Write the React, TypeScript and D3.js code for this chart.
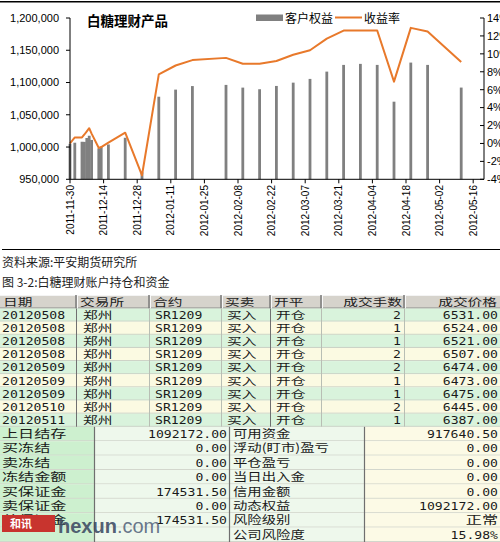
import React from "react";
import * as d3 from "d3";

// ---------- chart data ----------
const dates = [
  "2011-11-30", "2011-12-02", "2011-12-05", "2011-12-06", "2011-12-07", "2011-12-08",
  "2011-12-09", "2011-12-12", "2011-12-13", "2011-12-16", "2011-12-23", "2011-12-30",
  "2012-01-06", "2012-01-13", "2012-01-20", "2012-02-03", "2012-02-10", "2012-02-17",
  "2012-02-24", "2012-03-02", "2012-03-09", "2012-03-16", "2012-03-23", "2012-03-30",
  "2012-04-06", "2012-04-13", "2012-04-20", "2012-04-27", "2012-05-11",
];
const equity = [
  1005000, 1006700, 1008200, 1008000, 1014000, 1017500, 1011000, 998000, 1000000,
  1004000, 1014400, 961000, 1078000, 1089000, 1094500, 1096300, 1092100, 1089600,
  1094700, 1099800, 1105600, 1116900, 1127300, 1128900, 1127300, 1070300, 1130900,
  1127300, 1092172,
];
const returnRate = [
  0.0, 0.67, 0.67, 1.0, 1.35, 1.7, 1.1, -0.5, -0.4, 0.1, 1.2, -3.55, 7.7, 8.7, 9.3,
  9.55, 8.9, 8.9, 9.2, 9.9, 10.4, 11.7, 12.6, 12.6, 12.6, 6.9, 12.9, 12.5, 9.1,
];
const leftTicks = [950000, 1000000, 1050000, 1100000, 1150000, 1200000];
const rightTicks = [-4, -2, 0, 2, 4, 6, 8, 10, 12, 14];
const xTickDates = [
  "2011-11-30", "2011-12-14", "2011-12-28", "2012-01-11", "2012-01-25", "2012-02-08",
  "2012-02-22", "2012-03-07", "2012-03-21", "2012-04-04", "2012-04-18", "2012-05-02",
  "2012-05-16",
];
const chartTitle = "白糖理财产品";
const seriesNames = ["客户权益", "收益率"];
const sourceText = "资料来源:平安期货研究所";
const figCaption = "图 3-2:白糖理财账户持仓和资金";

// ---------- table data ----------
const tableHeaders = ["日期", "交易所", "合约", "买卖", "开平", "成交手数", "成交价格"];
const tradeDates = ["20120508", "20120508", "20120508", "20120508", "20120509", "20120509", "20120509", "20120510", "20120511"];
const exchanges = ["郑州", "郑州", "郑州", "郑州", "郑州", "郑州", "郑州", "郑州", "郑州"];
const contracts = ["SR1209", "SR1209", "SR1209", "SR1209", "SR1209", "SR1209", "SR1209", "SR1209", "SR1209"];
const sides = ["买入", "买入", "买入", "买入", "买入", "买入", "买入", "买入", "买入"];
const openClose = ["开仓", "开仓", "开仓", "开仓", "开仓", "开仓", "开仓", "开仓", "开仓"];
const lots = ["2", "1", "1", "2", "2", "1", "1", "2", "1"];
const prices = ["6531.00", "6524.00", "6521.00", "6507.00", "6474.00", "6473.00", "6475.00", "6445.00", "6387.00"];

const leftLabels = ["上日结存", "买冻结", "卖冻结", "冻结金额", "买保证金", "卖保证金", "总保证金", ""];
const leftValues = ["1092172.00", "0.00", "0.00", "0.00", "174531.50", "0.00", "174531.50", ""];
const rightLabels = ["可用资金", "浮动(盯市)盈亏", "平仓盈亏", "当日出入金", "信用金额", "动态权益", "风险级别", "公司风险度"];
const rightValues = ["917640.50", "0.00", "0.00", "0.00", "0.00", "1092172.00", "正常", "15.98%"];

const parse = (s: string) => {
  const [y, m, d] = s.split("-").map(Number);
  return new Date(Date.UTC(y, m - 1, d));
};

const CJK = "'Noto Sans CJK SC', sans-serif";
const MONO = "'DejaVu Sans Mono', monospace";
const ARIAL = "'Liberation Sans', Arial, sans-serif";

function TText({ x, y, anchor = "start", font, size, fill = "#1a1a1a", children, weight = 400, sx = 1.25 }: any) {
  return (
    <text
      transform={`translate(${x},${y}) scale(${sx},1)`}
      textAnchor={anchor}
      fontFamily={font}
      fontSize={size}
      fontWeight={weight}
      fill={fill}
    >
      {children}
    </text>
  );
}

export default function App() {
  const W = 500;
  const H = 542;
  const plot = { left: 70, right: 484, top: 18, bottom: 179.3 };
  const x = d3
    .scaleUtc()
    .domain([parse("2011-11-30"), new Date(Date.UTC(2012, 4, 20, 12))])
    .range([plot.left, plot.right]);
  const yL = d3.scaleLinear().domain([950000, 1200000]).range([plot.bottom, plot.top]);
  const yR = d3.scaleLinear().domain([-4, 14]).range([plot.bottom, plot.top]);
  const fmt = d3.format(",");

  const pts = dates.map((d, i) => ({ date: parse(d), eq: equity[i], r: returnRate[i] }));
  const line = d3
    .line<any>()
    .x((d) => x(d.date))
    .y((d) => yR(d.r));
  const orange = "#E8792B";
  const barW = 2.8;

  // table geometry
  const cols = [0, 77, 150, 222, 271, 322, 405, 500];
  const headTop = 295;
  const headH = 13.5;
  const rowH = 13.15;
  const rowsTop = headTop + headH;
  const accTop = rowsTop + rowH * tradeDates.length;
  const accH = (H - accTop) / leftLabels.length;
  const accCols = [0, 95, 230, 365, 500];

  return (
    <svg
      width={W}
      height={H}
      style={{ position: "absolute", left: 0, top: 0, display: "block", background: "#fff" }}
    >
      <rect x={0} y={0} width={W} height={H} fill="#fff" />
      {/* frame lines */}
      <line x1={0} x2={W} y1={1.8} y2={1.8} stroke="#000" strokeWidth={1.5} />
      <line x1={2} x2={W} y1={249.5} y2={249.5} stroke="#000" strokeWidth={1.2} />

      {/* bars */}
      {pts.map((p, i) => (
        <rect
          key={"b" + i}
          x={x(p.date) - barW / 2}
          y={yL(p.eq)}
          width={barW}
          height={plot.bottom - yL(p.eq)}
          fill="#808080"
        />
      ))}
      {/* line */}
      <path d={line(pts) || ""} fill="none" stroke={orange} strokeWidth={2} strokeLinejoin="round" />

      {/* axes */}
      <line x1={plot.left} x2={plot.left} y1={plot.top} y2={plot.bottom} stroke="#000" />
      <line x1={plot.right} x2={plot.right} y1={plot.top} y2={plot.bottom} stroke="#000" />
      <line x1={plot.left} x2={plot.right} y1={plot.bottom} y2={plot.bottom} stroke="#000" />
      {leftTicks.map((t) => (
        <g key={"lt" + t}>
          <line x1={plot.left - 4} x2={plot.left} y1={yL(t)} y2={yL(t)} stroke="#000" />
          <text x={59} y={yL(t)} dy="0.35em" textAnchor="end" fontFamily={ARIAL} fontSize={11} fill="#000">
            {fmt(t)}
          </text>
        </g>
      ))}
      {rightTicks.map((t) => (
        <g key={"rt" + t}>
          <line x1={plot.right - 4} x2={plot.right} y1={yR(t)} y2={yR(t)} stroke="#000" />
          <text x={487} y={yR(t)} dy="0.35em" textAnchor="start" fontFamily={ARIAL} fontSize={11} fill="#000">
            {t + "%"}
          </text>
        </g>
      ))}
      {xTickDates.map((d) => {
        const xx = x(parse(d));
        return (
          <g key={"xt" + d}>
            <line x1={xx} x2={xx} y1={plot.bottom} y2={plot.bottom + 4} stroke="#000" />
            <text
              transform={`translate(${xx},${185}) rotate(-90)`}
              textAnchor="end"
              dy="0.35em"
              fontFamily={ARIAL}
              fontSize={10}
              fill="#000"
            >
              {d}
            </text>
          </g>
        );
      })}

      {/* title & legend */}
      <text x={87} y={25.5} fontFamily={CJK} fontSize={13.5} fontWeight={700} fill="#000">
        {chartTitle}
      </text>
      <rect x={256} y={14.5} width={27} height={6.5} fill="#808080" />
      <text x={285} y={23} fontFamily={CJK} fontSize={12} fill="#000">
        {seriesNames[0]}
      </text>
      <line x1={335} x2={362} y1={17.5} y2={17.5} stroke={orange} strokeWidth={2} />
      <text x={364} y={23} fontFamily={CJK} fontSize={12} fill="#000">
        {seriesNames[1]}
      </text>

      {/* source & caption */}
      <text x={2} y={266.5} fontFamily={CJK} fontSize={12} fill="#222">
        {sourceText}
      </text>
      <text x={2} y={287} fontFamily={CJK} fontSize={12} fill="#222">
        {figCaption}
      </text>

      {/* trade table header */}
      <rect x={0} y={headTop} width={W} height={headH} fill="#d6d3cc" />
      <line x1={0} x2={W} y1={headTop + 0.5} y2={headTop + 0.5} stroke="#f4f4f4" />
      <line x1={0} x2={W} y1={headTop + headH - 0.5} y2={headTop + headH - 0.5} stroke="#8a8a8a" />
      {cols.slice(1, -1).map((c) => (
        <g key={"hc" + c}>
          <line x1={c - 1} x2={c - 1} y1={headTop} y2={headTop + headH} stroke="#7a7a7a" strokeWidth={1.5} />
          <line x1={c + 0.5} x2={c + 0.5} y1={headTop} y2={headTop + headH} stroke="#f8f8f8" />
        </g>
      ))}
      {tableHeaders.map((h, i) => {
        const right = i >= 5;
        return (
          <TText
            key={"h" + i}
            x={right ? cols[i + 1] - 3 : cols[i] + 3}
            y={headTop + headH - 3}
            anchor={right ? "end" : "start"}
            font={CJK}
            size={10.5}
            sx={1.4}
            fill="#222"
          >
            {h}
          </TText>
        );
      })}

      {/* trade rows */}
      {tradeDates.map((d, i) => {
        const top = rowsTop + i * rowH;
        const base = top + rowH - 2.8;
        return (
          <g key={"r" + i}>
            <rect x={0} y={top} width={W} height={rowH} fill={i % 2 === 0 ? "#d9f3dc" : "#fbfae2"} />
            <line x1={0} x2={W} y1={top + rowH - 0.5} y2={top + rowH - 0.5} stroke="#c9cfc4" />
            <TText x={2} y={base} font={MONO} size={10.5}>{d}</TText>
            <TText x={83} y={base} font={CJK} size={10.5} sx={1.4}>{exchanges[i]}</TText>
            <TText x={155} y={base} font={MONO} size={10.5}>{contracts[i]}</TText>
            <TText x={227} y={base} font={CJK} size={10.5} sx={1.4}>{sides[i]}</TText>
            <TText x={276} y={base} font={CJK} size={10.5} sx={1.4}>{openClose[i]}</TText>
            <TText x={401} y={base} anchor="end" font={MONO} size={10.5}>{lots[i]}</TText>
            <TText x={498} y={base} anchor="end" font={MONO} size={10.5}>{prices[i]}</TText>
          </g>
        );
      })}
      {cols.slice(1, -1).map((c, i) => (
        <line
          key={"rc" + c}
          x1={c - 0.5}
          x2={c - 0.5}
          y1={rowsTop}
          y2={accTop}
          stroke={i === 0 || i === 3 ? "#707070" : "#b8beb4"}
          strokeWidth={1}
        />
      ))}

      {/* account table */}
      {leftLabels.map((l, i) => {
        const top = accTop + i * accH;
        const base = top + accH - 3.2;
        return (
          <g key={"a" + i}>
            <rect x={accCols[0]} y={top} width={accCols[1]} height={accH} fill="#cdf0cf" />
            <rect x={accCols[1]} y={top} width={accCols[2] - accCols[1]} height={accH} fill="#eef8ec" />
            <rect x={accCols[2]} y={top} width={accCols[3] - accCols[2]} height={accH} fill="#eef8ec" />
            <rect x={accCols[3]} y={top} width={accCols[4] - accCols[3]} height={accH} fill="#fcfae6" />
            <line x1={0} x2={W} y1={top + accH - 0.5} y2={top + accH - 0.5} stroke="#d2d6cc" />
            <TText x={2} y={base} font={CJK} size={11.5} sx={1.4}>{l}</TText>
            <TText x={227} y={base} anchor="end" font={MONO} size={10.5}>{leftValues[i]}</TText>
            <TText x={233} y={base} font={CJK} size={11.5} sx={1.25}>{rightLabels[i]}</TText>
            <TText
              x={498}
              y={base}
              anchor="end"
              font={rightValues[i] === "正常" ? CJK : MONO}
              size={rightValues[i] === "正常" ? 11.5 : 10.5}
              sx={rightValues[i] === "正常" ? 1.4 : 1.25}
            >
              {rightValues[i]}
            </TText>
          </g>
        );
      })}
      {accCols.slice(1, -1).map((c) => (
        <line key={"ac" + c} x1={c - 0.5} x2={c - 0.5} y1={accTop} y2={H} stroke="#6f6f6f" strokeWidth={1.2} />
      ))}

      {/* watermark */}
      <rect x={2} y={515} width={53} height={17} fill="#c8342e" />
      <text x={10} y={528} fontFamily={CJK} fontSize={11} fontWeight={700} fill="#fff">
        和讯
      </text>
      <text x={58} y={533} fontFamily={ARIAL} fontSize={20} fill="#3d4b63" fillOpacity={0.9}>
        <tspan fontWeight={700}>hexun</tspan>
        <tspan fill="#56657d">.com</tspan>
      </text>
    </svg>
  );
}
